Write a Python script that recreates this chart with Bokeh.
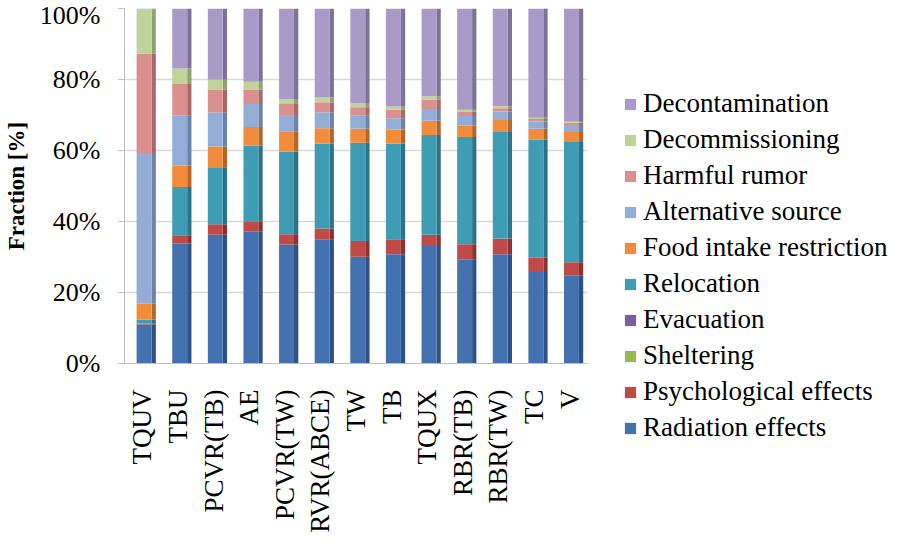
from bokeh.plotting import figure
from bokeh.layouts import row
from bokeh.models import (ColumnDataSource, FactorRange, Range1d, FixedTicker,
                          PrintfTickFormatter, Legend, LegendItem)
from bokeh.transform import dodge
from bokeh.embed import file_html
from bokeh.resources import INLINE

categories = ["TQUV", "TBU", "PCVR(TB)", "AE", "PCVR(TW)", "RVR(ABCE)", "TW",
              "TB", "TQUX", "RBR(TB)", "RBR(TW)", "TC", "V"]

radiation_effects = [11.0, 33.8, 36.3, 37.1, 33.5, 35.0, 30.1, 30.8, 33.1, 29.4, 30.8, 25.8, 24.7]
psychological_effects = [0.3, 2.3, 2.9, 3.0, 2.9, 3.0, 4.4, 4.2, 3.2, 4.2, 4.4, 4.0, 3.8]
sheltering = [0.0, 0.0, 0.0, 0.0, 0.0, 0.0, 0.0, 0.0, 0.0, 0.0, 0.0, 0.0, 0.0]
evacuation = [0.0, 0.0, 0.0, 0.0, 0.0, 0.0, 0.0, 0.0, 0.0, 0.0, 0.0, 0.0, 0.0]
relocation = [1.0, 13.6, 16.1, 21.3, 23.3, 23.9, 27.7, 26.9, 28.1, 30.2, 30.0, 33.3, 33.9]
food_intake_restriction = [4.5, 6.1, 5.8, 5.2, 5.7, 4.4, 3.9, 4.0, 4.0, 3.2, 3.4, 3.0, 2.8]
alternative_source = [42.5, 14.1, 9.7, 6.5, 4.6, 4.5, 3.8, 3.2, 3.3, 2.7, 2.4, 2.1, 1.7]
harmful_rumor = [28.0, 8.8, 6.4, 4.1, 3.1, 2.8, 2.3, 2.4, 2.7, 1.3, 0.9, 0.7, 0.9]
decommissioning = [12.5, 4.4, 2.7, 2.2, 1.4, 1.3, 1.2, 0.9, 0.9, 0.5, 0.6, 0.3, 0.3]
decontamination = [0.2, 16.9, 20.1, 20.6, 25.5, 25.1, 26.6, 27.6, 24.7, 28.5, 27.5, 30.8, 31.9]

series_names = ["Radiation effects", "Psychological effects", "Sheltering", "Evacuation",
                "Relocation", "Food intake restriction", "Alternative source",
                "Harmful rumor", "Decommissioning", "Decontamination"]
series_values = [radiation_effects, psychological_effects, sheltering, evacuation,
                 relocation, food_intake_restriction, alternative_source,
                 harmful_rumor, decommissioning, decontamination]
front_colors = ["#4472B0", "#BE4B48", "#98B954", "#7D5FA0", "#3E9DB5",
                "#F08C3C", "#93ADD6", "#D9908E", "#BFD49A", "#AA9AC8"]
side_colors = ["#2E5285", "#8C3230", "#6F8A3A", "#5A4378", "#2B7487",
               "#B5672A", "#6B84A8", "#A86A68", "#90A272", "#7E7298"]

keys = ["s%d" % i for i in range(len(series_names))]
data = {"cat": categories}
for k, v in zip(keys, series_values):
    data[k] = v
source = ColumnDataSource(data)

SERIF = "Liberation Serif"

p = figure(x_range=FactorRange(*categories, range_padding=0), y_range=Range1d(0, 100),
           width=590, height=535, output_backend="svg", toolbar_location=None,
           min_border_left=120, min_border_right=3, min_border_top=8,
           min_border_bottom=171)
p.frame_align = False
p.outline_line_color = None
p.background_fill_color = "white"

# side faces (3D look)
p.vbar_stack(keys, x=dodge("cat", 0.32, range=p.x_range), width=0.12, source=source,
             color=side_colors, line_color=None)
# front faces
front = p.vbar_stack(keys, x=dodge("cat", 0.05, range=p.x_range), width=0.42,
                     source=source, color=front_colors, line_color=None)

p.xgrid.grid_line_color = None
p.ygrid.grid_line_color = "#D9D9D9"
p.ygrid.grid_line_width = 1.5
p.yaxis.ticker = FixedTicker(ticks=[0, 20, 40, 60, 80, 100])
p.yaxis.formatter = PrintfTickFormatter(format="%d%%")
p.yaxis.axis_line_color = "#BFBFBF"
p.yaxis.major_tick_line_color = "#BFBFBF"
p.yaxis.major_tick_out = 6
p.yaxis.major_tick_in = 0
p.yaxis.minor_tick_line_color = None
p.yaxis.major_label_standoff = 18
p.yaxis.major_label_text_font = SERIF
p.yaxis.major_label_text_font_size = "26px"
p.yaxis.major_label_text_color = "black"
p.yaxis.axis_label = "Fraction [%]"
p.yaxis.axis_label_text_font = SERIF
p.yaxis.axis_label_text_font_style = "bold"
p.yaxis.axis_label_text_font_size = "23px"
p.yaxis.axis_label_text_color = "black"
p.yaxis.axis_label_standoff = 8

p.xaxis.axis_line_color = "#BFBFBF"
p.xaxis.major_tick_line_color = None
p.xaxis.major_label_orientation = 1.5707963
p.xaxis.major_label_standoff = 20
p.xaxis.major_label_text_font = SERIF
p.xaxis.major_label_text_font_size = "27px"
p.xaxis.major_label_text_color = "black"

# legend panel
p2 = figure(width=298, height=535, x_range=Range1d(0, 1), y_range=Range1d(0, 1),
            output_backend="svg", toolbar_location=None,
            min_border_left=0, min_border_right=0, min_border_top=0, min_border_bottom=0)
p2.frame_align = False
p2.axis.visible = False
p2.grid.grid_line_color = None
p2.outline_line_color = None

items = []
for name, c in zip(series_names, front_colors):
    r = p2.vbar(x=[-5], top=[-5], width=0.1, color=c, line_color=None)
    items.append(LegendItem(label=name, renderers=[r]))
items = items[::-1]
legend = Legend(items=items, location=(33, 92), orientation="vertical",
                label_text_font=SERIF, label_text_font_size="27px",
                label_text_color="black", glyph_width=14, glyph_height=14,
                label_standoff=6, spacing=5, padding=0, margin=0,
                border_line_color=None, background_fill_alpha=0)
p2.add_layout(legend, "center")

layout = row(p, p2)
open("out.html", "w").write(file_html(layout, INLINE))
